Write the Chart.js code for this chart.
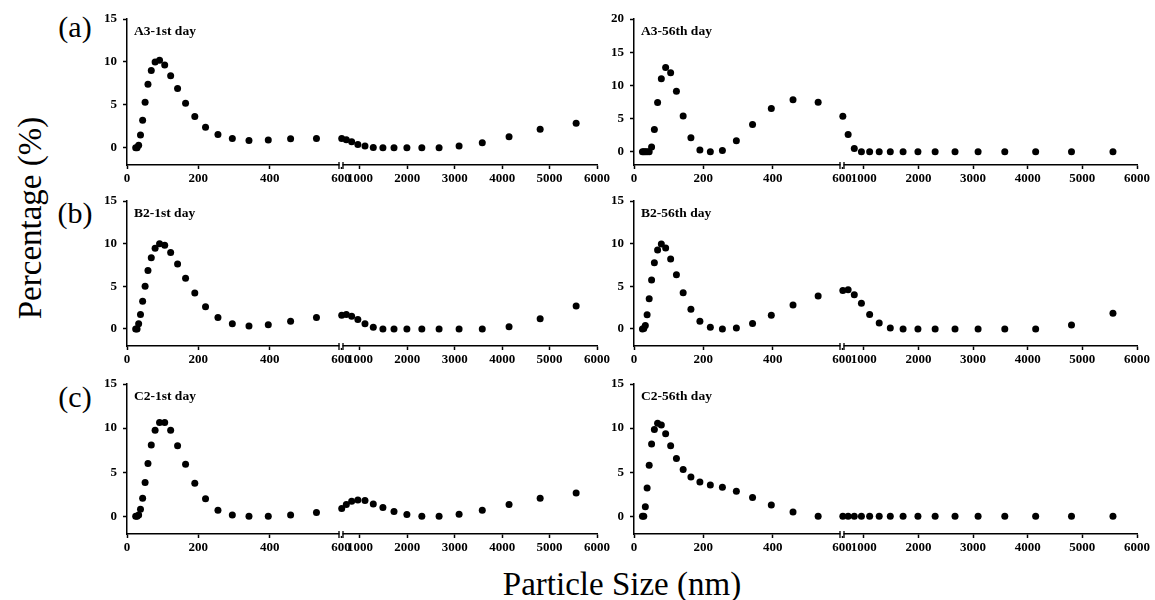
<!DOCTYPE html>
<html>
<head>
<meta charset="utf-8">
<script src="https://cdn.jsdelivr.net/npm/chart.js@4.4.0/dist/chart.umd.min.js"></script>
<style>
  html, body { margin: 0; padding: 0; background: #fff; }
  #page { position: relative; width: 1155px; height: 600px; overflow: hidden; font-family: "Liberation Serif", "Times New Roman", serif; }
  canvas { position: absolute; }
  .txt { position: absolute; line-height: 1; white-space: nowrap; transform: translate(-50%, -50%); color: #000; }
</style>
</head>
<body>
<div id="page">
  <div class="txt" style="left:75px; top:27px; font-size:30px;">(a)</div>
  <div class="txt" style="left:75px; top:213px; font-size:30px;">(b)</div>
  <div class="txt" style="left:75px; top:397px; font-size:30px;">(c)</div>
  <div class="txt" style="left:30px; top:218px; font-size:33px; transform: translate(-50%, -50%) rotate(-90deg);">Percentage (%)</div>
  <div class="txt" style="left:622px; top:584px; font-size:33px;">Particle Size (nm)</div>
</div>
<script>
// particle size bins (nm), shared by every panel
const sizes = [24.36, 28.21, 32.67, 37.84, 43.82, 50.75, 58.77, 68.06, 78.82, 91.28, 105.7, 122.4, 141.8,
  164.2, 190.1, 220.2, 255.0, 295.3, 342.0, 396.1, 458.7, 531.2,
  615.1, 712.4, 825.0, 955.4, 1106, 1281, 1484, 1718, 1990, 2305, 2669, 3091, 3580, 4145, 4801, 5560];

// percentage per bin
const a3Day1 = [0, 0, 0.3, 1.5, 3.2, 5.3, 7.4, 9.0, 10.0, 10.2, 9.65, 8.4, 6.9, 5.2, 3.65, 2.4, 1.55, 1.1, 0.85, 0.9, 1.05, 1.1,
  1.1, 0.95, 0.7, 0.4, 0.2, 0.05, 0, 0, 0, 0, 0, 0.2, 0.6, 1.3, 2.15, 2.85];
const a3Day56 = [0, 0, 0, 0, 0, 0.7, 3.35, 7.4, 11.0, 12.7, 11.9, 9.1, 5.4, 2.1, 0.25, 0, 0.2, 1.65, 4.1, 6.5, 7.85, 7.45,
  5.35, 2.6, 0.5, 0, 0, 0, 0, 0, 0, 0, 0, 0, 0, 0, 0, 0];
const b2Day1 = [0, 0, 0.6, 1.7, 3.25, 5.0, 6.85, 8.35, 9.45, 10.0, 9.8, 8.95, 7.6, 5.95, 4.2, 2.6, 1.35, 0.6, 0.35, 0.5, 0.9, 1.35,
  1.6, 1.7, 1.5, 1.1, 0.6, 0.2, 0, 0, 0, 0, 0, 0, 0, 0.25, 1.2, 2.7];
const b2Day56 = [0, 0.05, 0.4, 1.65, 3.55, 5.75, 7.75, 9.25, 9.95, 9.5, 8.2, 6.35, 4.25, 2.3, 0.9, 0.2, 0, 0.1, 0.65, 1.6, 2.8, 3.85,
  4.5, 4.6, 4.0, 3.0, 1.7, 0.7, 0.1, 0, 0, 0, 0, 0, 0, 0, 0.45, 1.85];
const c2Day1 = [0, 0, 0.15, 0.8, 2.05, 3.85, 6.0, 8.1, 9.75, 10.65, 10.65, 9.75, 8.0, 5.9, 3.75, 2.0, 0.7, 0.15, 0, 0, 0.15, 0.45,
  0.9, 1.35, 1.7, 1.85, 1.8, 1.4, 1.0, 0.55, 0.2, 0, 0, 0.25, 0.7, 1.35, 2.05, 2.65];
const c2Day56 = [0, 0, 1.1, 3.2, 5.8, 8.2, 9.85, 10.55, 10.35, 9.35, 8.0, 6.55, 5.3, 4.45, 3.9, 3.55, 3.3, 2.85, 2.15, 1.3, 0.5, 0,
  0, 0, 0, 0, 0, 0, 0, 0, 0, 0, 0, 0, 0, 0, 0, 0];

// axis break and ticks
const breakAt = 600;
const xTicksLow = [0, 200, 400, 600];
const xTicksHigh = [1000, 2000, 3000, 4000, 5000, 6000];
const yTicks15 = [0, 5, 10, 15];
const yTicks20 = [0, 5, 10, 15, 20];

const tickFont = { family: 'Liberation Serif', weight: 'bold', size: 13 };

// draws the sample name in the top left corner of the plot
const panelTitle = {
  id: 'panelTitle',
  afterDraw(chart, args, opts) {
    const { ctx, chartArea } = chart;
    ctx.save();
    ctx.font = 'bold 13.5px "Liberation Serif"';
    ctx.fillStyle = '#000';
    ctx.textBaseline = 'middle';
    ctx.fillText(opts.text, chartArea.left + 7, chartArea.top + 13);
    ctx.restore();
  }
};

// the "||" mark where the two x segments meet
const axisBreak = {
  id: 'axisBreak',
  beforeDatasetsDraw(chart) {
    const { ctx } = chart;
    const s = chart.scales.xLow;
    const x = s.right, y = s.top;
    ctx.save();
    ctx.fillStyle = '#fff';
    ctx.fillRect(x - 1.5, y - 2, 3, 4);
    ctx.strokeStyle = '#000';
    ctx.lineWidth = 1.3;
    ctx.beginPath();
    ctx.moveTo(x - 2, y - 3); ctx.lineTo(x - 2, y + 4);
    ctx.moveTo(x + 2, y - 3); ctx.lineTo(x + 2, y + 4);
    ctx.stroke();
    ctx.restore();
  }
};

function axisBase() {
  return {
    border: { color: '#000', width: 1.5 },
    grid: { drawOnChartArea: false, drawTicks: true, tickLength: 4, tickWidth: 1.5, tickColor: '#000' },
    ticks: { color: '#000', font: tickFont, autoSkip: false, maxRotation: 0, padding: 2, callback: v => String(v) }
  };
}

function xAxis(min, max, ticks, weight) {
  const a = axisBase();
  return Object.assign(a, {
    type: 'linear', axis: 'x', position: 'bottom', stack: 'bottom', stackWeight: weight,
    min: min, max: max,
    afterBuildTicks: s => { s.ticks = ticks.map(v => ({ value: v })); },
    afterFit: s => { s.height = 26; s.paddingLeft = 0; s.paddingRight = 0; }
  });
}

function makePanel(p) {
  const page = document.getElementById('page');
  const canvas = document.createElement('canvas');
  canvas.width = p.w;
  canvas.height = p.h;
  canvas.style.left = p.x + 'px';
  canvas.style.top = p.y + 'px';
  page.appendChild(canvas);

  const low = [], high = [];
  sizes.forEach((s, i) => (s <= breakAt ? low : high).push({ x: s, y: p.values[i] }));

  const yAx = axisBase();
  yAx.ticks.padding = 6;
  Object.assign(yAx, {
    type: 'linear', position: 'left', min: -2, max: p.yMax,
    afterBuildTicks: s => { s.ticks = p.yTicks.map(v => ({ value: v })); },
    afterFit: s => { s.width = 40; s.paddingTop = 0; s.paddingBottom = 0; }
  });

  const dot = { showLine: false, clip: false, pointRadius: 3.5, pointHoverRadius: 3.5, backgroundColor: '#000', borderColor: '#000', borderWidth: 0 };

  new Chart(canvas, {
    type: 'scatter',
    data: {
      datasets: [
        Object.assign({ label: p.title + ' <600', data: low, xAxisID: 'xLow', yAxisID: 'y' }, dot),
        Object.assign({ label: p.title + ' >600', data: high, xAxisID: 'xHigh', yAxisID: 'y' }, dot)
      ]
    },
    options: {
      responsive: false,
      animation: false,
      devicePixelRatio: 1,
      layout: { padding: { top: 10, right: 16, left: 0, bottom: 0 } },
      scales: {
        xLow: xAxis(0, breakAt, xTicksLow, p.wLow),
        xHigh: xAxis(breakAt, 6000, xTicksHigh, p.wHigh),
        y: yAx
      },
      plugins: {
        legend: { display: false },
        tooltip: { enabled: false },
        panelTitle: { text: p.title }
      }
    },
    plugins: [panelTitle, axisBreak]
  });
}

// left column / right column, three rows
const panels = [
  { title: 'A3-1st day',  values: a3Day1,  yMax: 15, yTicks: yTicks15, x: 87,  y: 9,   w: 526, h: 182, wLow: 214, wHigh: 256 },
  { title: 'A3-56th day', values: a3Day56, yMax: 20, yTicks: yTicks20, x: 594, y: 9,   w: 559, h: 182, wLow: 208, wHigh: 295 },
  { title: 'B2-1st day',  values: b2Day1,  yMax: 15, yTicks: yTicks15, x: 87,  y: 191, w: 526, h: 181, wLow: 214, wHigh: 256 },
  { title: 'B2-56th day', values: b2Day56, yMax: 15, yTicks: yTicks15, x: 594, y: 191, w: 559, h: 181, wLow: 208, wHigh: 295 },
  { title: 'C2-1st day',  values: c2Day1,  yMax: 15, yTicks: yTicks15, x: 87,  y: 374, w: 526, h: 186, wLow: 214, wHigh: 256 },
  { title: 'C2-56th day', values: c2Day56, yMax: 15, yTicks: yTicks15, x: 594, y: 374, w: 559, h: 186, wLow: 208, wHigh: 295 }
];

panels.forEach(makePanel);
</script>
</body>
</html>
